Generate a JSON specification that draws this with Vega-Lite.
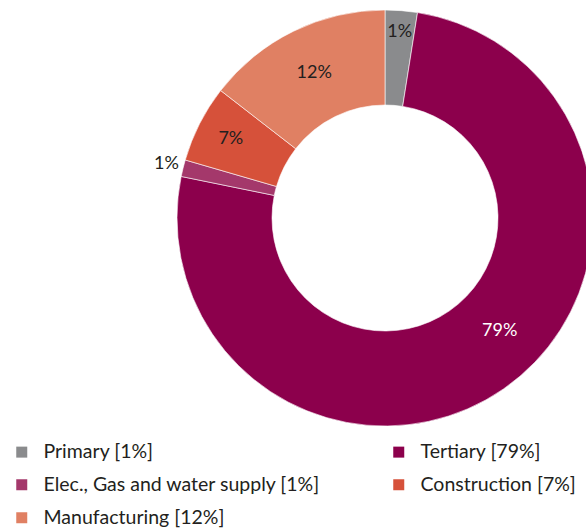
{
  "$schema": "https://vega.github.io/schema/vega-lite/v6.json",
  "width": 770,
  "height": 436,
  "autosize": {"type": "none"},
  "padding": {"left": 0, "top": 0, "right": 0, "bottom": 94},
  "background": "white",
  "config": {"view": {"stroke": null}, "font": "Lato"},
  "data": {
    "values": [
      {"rank": 1, "sector": "Primary", "legend": "Primary [1%]", "share": 2.5, "label": "1%"},
      {"rank": 2, "sector": "Tertiary", "legend": "Tertiary [79%]", "share": 75.7, "label": "79%"},
      {"rank": 3, "sector": "Elec", "legend": "Elec., Gas and water supply [1%]", "share": 1.3, "label": "1%"},
      {"rank": 4, "sector": "Construction", "legend": "Construction [7%]", "share": 6.0, "label": "7%"},
      {"rank": 5, "sector": "Manufacturing", "legend": "Manufacturing [12%]", "share": 14.5, "label": "12%"}
    ]
  },
  "encoding": {
    "theta": {"field": "share", "type": "quantitative", "stack": true},
    "order": {"field": "rank", "type": "quantitative", "sort": "ascending"}
  },
  "layer": [
    {
      "mark": {"type": "arc", "outerRadius": 208, "innerRadius": 113, "stroke": "white", "strokeWidth": 0.6},
      "encoding": {
        "color": {
          "field": "legend",
          "type": "nominal",
          "sort": ["Primary [1%]", "Tertiary [79%]", "Elec., Gas and water supply [1%]", "Construction [7%]", "Manufacturing [12%]"],
          "scale": {
            "domain": ["Primary [1%]", "Tertiary [79%]", "Elec., Gas and water supply [1%]", "Construction [7%]", "Manufacturing [12%]"],
            "range": ["#8a8b8d", "#8c004c", "#a4386b", "#d6513a", "#e08063"]
          },
          "legend": {
            "title": null,
            "orient": "none",
            "direction": "horizontal",
            "legendX": 12,
            "legendY": 442,
            "columns": 2,
            "columnPadding": 68,
            "rowPadding": 12,
            "symbolType": "square",
            "symbolSize": 121,
            "symbolStrokeWidth": 0,
            "labelOffset": 12,
            "labelFontSize": 19.5,
            "labelFont": "Lato",
            "labelColor": "#231f20",
            "labelLimit": 400
          }
        }
      }
    },
    {
      "mark": {
        "type": "text",
        "font": "Lato",
        "fontSize": 18,
        "radius": {"expr": "datum.sector === 'Elec' ? 225 : datum.sector === 'Primary' ? 187 : datum.sector === 'Construction' ? 173 : 161"},
        "dx": {"expr": "datum.sector === 'Tertiary' ? 23 : 0"},
        "dy": {"expr": "datum.sector === 'Tertiary' ? -19 : 0"},
        "fill": {"expr": "datum.sector === 'Tertiary' ? 'white' : '#231f20'"}
      },
      "encoding": {
        "text": {"field": "label", "type": "nominal"}
      }
    }
  ]
}
